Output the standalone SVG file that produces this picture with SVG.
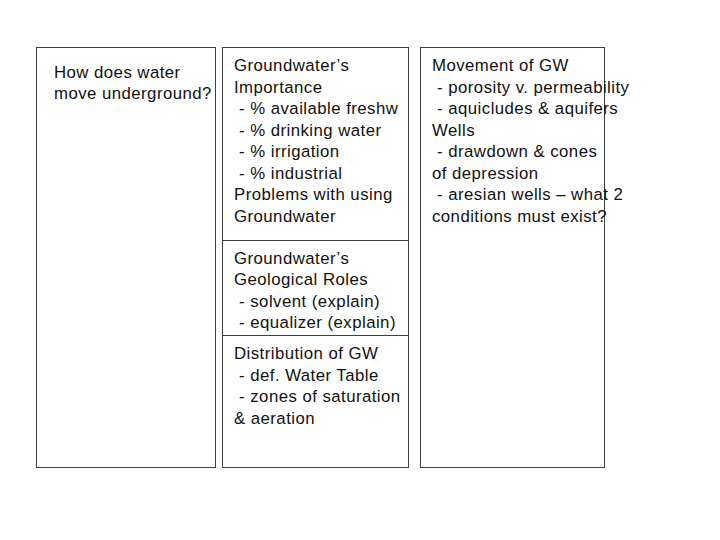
<svg xmlns="http://www.w3.org/2000/svg" width="720" height="540" viewBox="0 0 720 540">
<style>
.b{fill:#fff;stroke:#404040;stroke-width:1}
.t{font-family:"Liberation Sans",Arial,sans-serif;font-size:16.8px;letter-spacing:0.45px;fill:#111;white-space:pre}
</style>
<rect width="720" height="540" fill="#fff"/>
<g id="left"><rect class="b" x="36.5" y="47.5" width="179" height="420"/>
<text class="t" x="54" y="78">How does water</text><text class="t" x="54" y="99">move underground?</text></g>
<g id="middle"><rect class="b" x="222.5" y="47.5" width="186" height="420"/>
<line class="b" x1="222.5" y1="240.5" x2="408.5" y2="240.5"/><line class="b" x1="222.5" y1="335.5" x2="408.5" y2="335.5"/>
<text class="t" x="234" y="71">Groundwater’s</text>
<text class="t" x="234" y="93">Importance</text>
<text class="t" x="234" y="114"> - % available freshw</text>
<text class="t" x="234" y="136"> - % drinking water</text>
<text class="t" x="234" y="157"> - % irrigation</text>
<text class="t" x="234" y="179"> - % industrial</text>
<text class="t" x="234" y="200">Problems with using</text>
<text class="t" x="234" y="222">Groundwater</text>
<text class="t" x="234" y="264">Groundwater’s</text>
<text class="t" x="234" y="285">Geological Roles</text>
<text class="t" x="234" y="307"> - solvent (explain)</text>
<text class="t" x="234" y="328"> - equalizer (explain)</text>
<text class="t" x="234" y="359">Distribution of GW</text>
<text class="t" x="234" y="381"> - def. Water Table</text>
<text class="t" x="234" y="402"> - zones of saturation</text>
<text class="t" x="234" y="424">&amp; aeration</text></g>
<g id="right"><rect class="b" x="420.5" y="47.5" width="184" height="420"/>
<text class="t" x="432" y="71">Movement of GW</text>
<text class="t" x="432" y="93"> - porosity v. permeability</text>
<text class="t" x="432" y="114"> - aquicludes &amp; aquifers</text>
<text class="t" x="432" y="136">Wells</text>
<text class="t" x="432" y="157"> - drawdown &amp; cones</text>
<text class="t" x="432" y="179">of depression</text>
<text class="t" x="432" y="200"> - aresian wells – what 2</text>
<text class="t" x="432" y="222">conditions must exist?</text></g>
<g id="connectors"/>
</svg>
